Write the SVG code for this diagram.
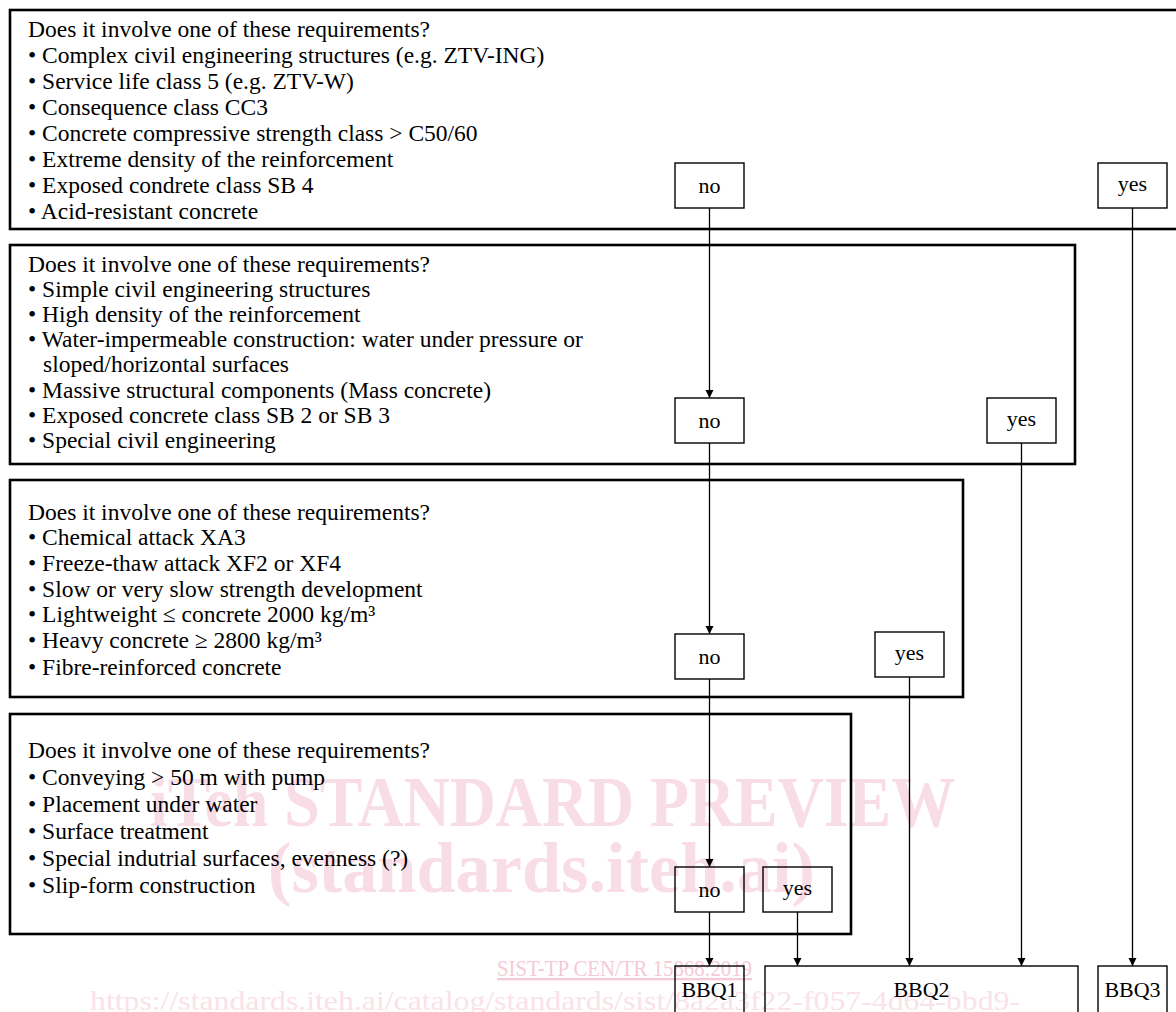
<svg xmlns="http://www.w3.org/2000/svg" width="1176" height="1012" viewBox="0 0 1176 1012">
<style>
.q{fill:none;stroke:#000;stroke-width:2.6}
.o{fill:none;stroke:#000;stroke-width:1.4}
.t{font-family:"Liberation Serif","Times New Roman",serif;font-size:23.5px;fill:#000}
.c{font-family:"Liberation Serif","Times New Roman",serif;font-size:22px;fill:#000;text-anchor:middle}
.w{font-family:"Liberation Serif","Times New Roman",serif;font-weight:bold;fill:#f9dde6}
.w2{font-family:"Liberation Serif","Times New Roman",serif;fill:#f5c9d6}
.w3{font-family:"Liberation Serif","Times New Roman",serif;fill:#fae2e9}
.l{stroke:#000;stroke-width:1.3;fill:none;marker-end:url(#ah)}
</style>
<defs>
<marker id="ah" viewBox="0 0 8 14" refX="8" refY="7" markerWidth="8" markerHeight="14" markerUnits="userSpaceOnUse" orient="auto">
<path d="M0,3 L8,7 L0,11 Z" fill="#000"/>
</marker>
</defs>
<rect width="1176" height="1012" fill="#fff"/>
<g id="watermark">
<text class="w" x="150" y="826" font-size="72" textLength="805" lengthAdjust="spacingAndGlyphs">iTeh STANDARD PREVIEW</text>
<text class="w" x="268" y="892" font-size="72" textLength="547" lengthAdjust="spacingAndGlyphs">(standards.iteh.ai)</text>
<text class="w2" x="497" y="976" font-size="23" textLength="255" lengthAdjust="spacingAndGlyphs" text-decoration="underline">SIST-TP CEN/TR 15868:2019</text>
<text class="w3" x="90" y="1010" font-size="28" textLength="930" lengthAdjust="spacingAndGlyphs">https://standards.iteh.ai/catalog/standards/sist/8a2a3f22-f057-4d64-bbd9-</text>
</g>
<g id="q1">
<rect class="q" x="10" y="10" width="1180" height="219"/>
<text class="t" x="28" y="37">Does it involve one of these requirements?</text>
<text class="t" x="28" y="63">• Complex civil engineering structures (e.g. ZTV-ING)</text>
<text class="t" x="28" y="89">• Service life class 5 (e.g. ZTV-W)</text>
<text class="t" x="28" y="115">• Consequence class CC3</text>
<text class="t" x="28" y="141">• Concrete compressive strength class &gt; C50/60</text>
<text class="t" x="28" y="167">• Extreme density of the reinforcement</text>
<text class="t" x="28" y="193">• Exposed condrete class SB 4</text>
<text class="t" x="28" y="219">• Acid-resistant concrete</text>
</g>
<g id="no1"><rect class="o" x="675" y="163" width="69" height="45"/><text class="c" x="709.5" y="193">no</text></g>
<g id="yes1"><rect class="o" x="1098" y="163" width="69" height="45"/><text class="c" x="1132.5" y="191">yes</text></g>
<g id="q2">
<rect class="q" x="10" y="245" width="1065" height="219"/>
<text class="t" x="28" y="272">Does it involve one of these requirements?</text>
<text class="t" x="28" y="297">• Simple civil engineering structures</text>
<text class="t" x="28" y="322">• High density of the reinforcement</text>
<text class="t" x="28" y="347">• Water-impermeable construction: water under pressure or</text>
<text class="t" x="43" y="372">sloped/horizontal surfaces</text>
<text class="t" x="28" y="398">• Massive structural components (Mass concrete)</text>
<text class="t" x="28" y="423">• Exposed concrete class SB 2 or SB 3</text>
<text class="t" x="28" y="448">• Special civil engineering</text>
</g>
<g id="no2"><rect class="o" x="675" y="398" width="69" height="45"/><text class="c" x="709.5" y="428">no</text></g>
<g id="yes2"><rect class="o" x="987" y="398" width="69" height="45"/><text class="c" x="1021.5" y="426">yes</text></g>
<g id="q3">
<rect class="q" x="10" y="480" width="953" height="217"/>
<text class="t" x="28" y="520">Does it involve one of these requirements?</text>
<text class="t" x="28" y="545">• Chemical attack XA3</text>
<text class="t" x="28" y="571">• Freeze-thaw attack XF2 or XF4</text>
<text class="t" x="28" y="597">• Slow or very slow strength development</text>
<text class="t" x="28" y="622">• Lightweight ≤ concrete 2000 kg/m³</text>
<text class="t" x="28" y="648">• Heavy concrete ≥ 2800 kg/m³</text>
<text class="t" x="28" y="675">•  Fibre-reinforced concrete</text>
</g>
<g id="no3"><rect class="o" x="675" y="634" width="69" height="45"/><text class="c" x="709.5" y="664">no</text></g>
<g id="yes3"><rect class="o" x="875" y="632" width="69" height="45"/><text class="c" x="909.5" y="660">yes</text></g>
<g id="q4">
<rect class="q" x="10" y="714" width="841" height="220"/>
<text class="t" x="28" y="758">Does it involve one of these requirements?</text>
<text class="t" x="28" y="785">• Conveying &gt; 50 m with pump</text>
<text class="t" x="28" y="812">• Placement under water</text>
<text class="t" x="28" y="839">• Surface treatment</text>
<text class="t" x="28" y="866">• Special indutrial surfaces, evenness (?)</text>
<text class="t" x="28" y="893">• Slip-form construction</text>
</g>
<g id="no4"><rect class="o" x="675" y="867" width="69" height="45"/><text class="c" x="709.5" y="897">no</text></g>
<g id="yes4"><rect class="o" x="763" y="867" width="69" height="45"/><text class="c" x="797.5" y="895">yes</text></g>
<g id="bbq1"><rect class="o" x="675" y="966" width="69" height="60"/><text class="c" x="709.5" y="997">BBQ1</text></g>
<g id="bbq2"><rect class="o" x="765" y="966" width="313" height="60"/><text class="c" x="921.5" y="997">BBQ2</text></g>
<g id="bbq3"><rect class="o" x="1098" y="966" width="69" height="60"/><text class="c" x="1132.5" y="997">BBQ3</text></g>
<g id="connectors">
<line class="l" x1="709.5" y1="208" x2="709.5" y2="398"/>
<line class="l" x1="709.5" y1="443" x2="709.5" y2="634"/>
<line class="l" x1="709.5" y1="679" x2="709.5" y2="867"/>
<line class="l" x1="709.5" y1="912" x2="709.5" y2="966"/>
<line class="l" x1="797.5" y1="912" x2="797.5" y2="966"/>
<line class="l" x1="909.5" y1="677" x2="909.5" y2="966"/>
<line class="l" x1="1021.5" y1="443" x2="1021.5" y2="966"/>
<line class="l" x1="1132.5" y1="208" x2="1132.5" y2="966"/>
</g>
</svg>
